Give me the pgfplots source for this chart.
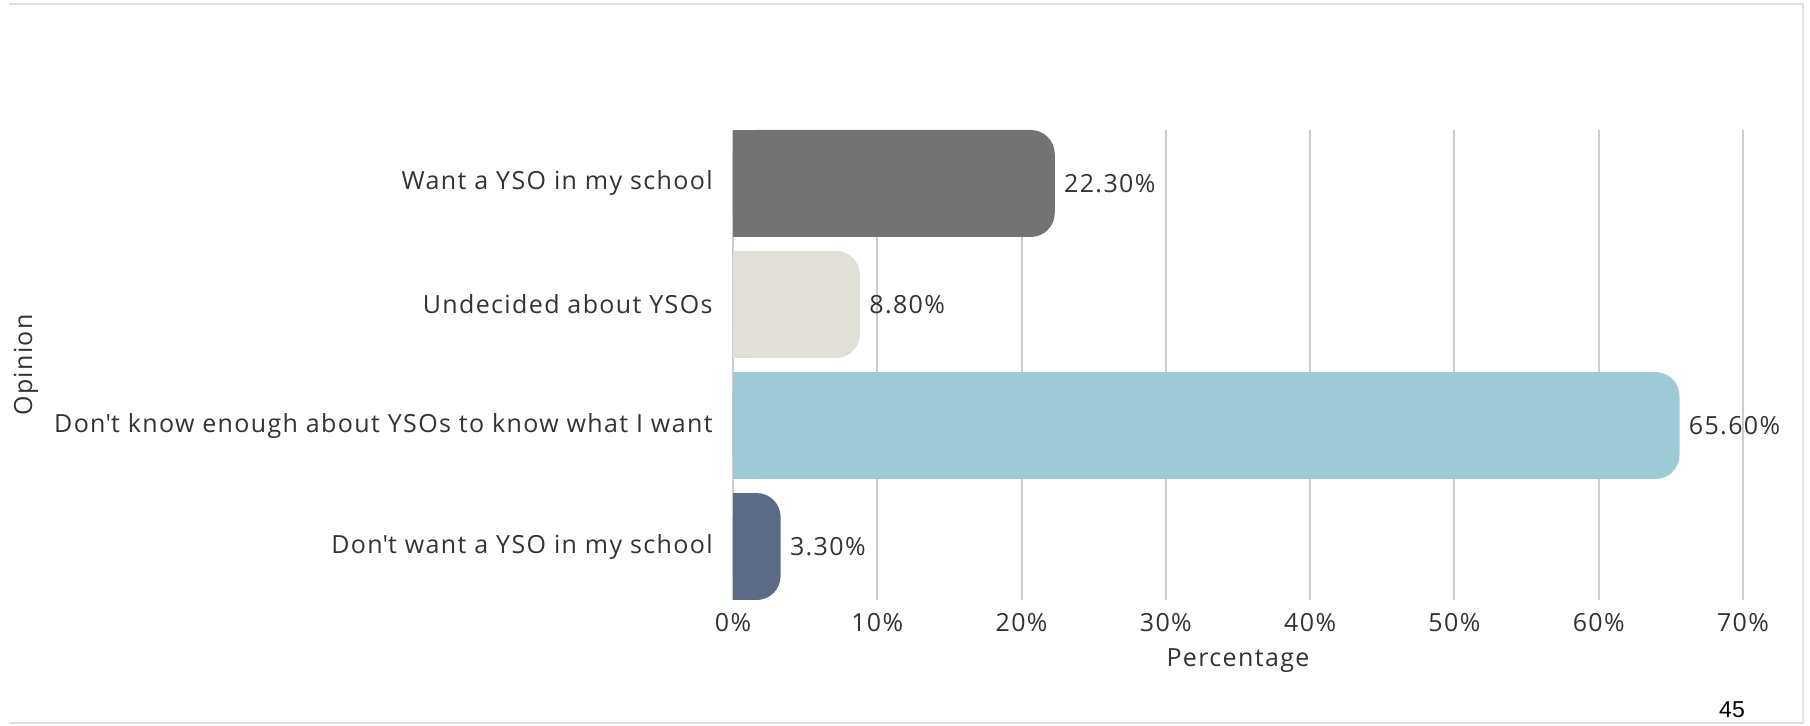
\documentclass[border=0pt]{standalone}
\usepackage{pgfplots}
\pgfplotsset{compat=1.18}
\usepackage{fontspec}
\setmainfont{Open Sans}[LetterSpace=5.5]
\definecolor{cwant}{HTML}{737373}
\definecolor{cund}{HTML}{E0E0D8}
\definecolor{cdk}{HTML}{9ECAD6}
\definecolor{cdont}{HTML}{5C6A88}
\definecolor{txt}{HTML}{333333}
\definecolor{gridc}{HTML}{CCCCCC}
\begin{document}
\begin{tikzpicture}
\useasboundingbox (0,0) rectangle (905pt,362.5pt);
\draw[color=black!12, line width=0.8pt] (4.5pt,360.5pt) -- (901.5pt,360.5pt) -- (901.5pt,1pt) -- (4.5pt,1pt);
\node[font=\fontspec{Liberation Sans}\fontsize{11.5}{13}\selectfont, text=black] at (866pt,7.5pt) {45};
\begin{axis}[
  at={(366.5pt,62.5pt)}, anchor=south west,
  scale only axis, width=505pt, height=235pt,
  xmin=0, xmax=70, ymin=-0.442, ymax=3.442,
  axis line style={draw=none},
  xtick={0,10,20,30,40,50,60,70},
  xticklabels={0\%,10\%,20\%,30\%,40\%,50\%,60\%,70\%},
  ytick={0,1,2,3},
  yticklabels={Don\textquotesingle t want a YSO in my school,Don\textquotesingle t know enough about YSOs to know what I want,Undecided about YSOs,Want a YSO in my school},
  major tick length=0pt,
  xmajorgrids, major grid style={color=gridc, line width=1pt},
  tick label style={font=\fontsize{12.5}{14}\selectfont, text=txt, inner sep=0pt},
  xticklabel style={anchor=center, yshift=-11.5pt},
  yticklabel style={anchor=east, xshift=-10pt},
  label style={font=\fontsize{12.5}{14}\selectfont, text=txt},
  xlabel={Percentage},
  xlabel style={at={(axis description cs:0.5,-0.128)}, anchor=center},
  ylabel={Opinion},
  ylabel style={at={(axis description cs:-0.7,0.5)}, anchor=center, rotate=0},
  bar width=53.5pt,
  nodes near coords style={font=\fontsize{12.5}{14}\selectfont, text=txt, anchor=west, inner sep=0pt, xshift=4.5pt},
  clip=false,
]
% full bars with rounded corners
\addplot[xbar, bar shift=0pt, fill=cwant, draw=none, rounded corners=12pt, nodes near coords={22.30\%}] coordinates {(22.3,3)};
\addplot[xbar, bar shift=0pt, fill=cund, draw=none, rounded corners=12pt, nodes near coords={8.80\%}] coordinates {(8.8,2)};
\addplot[xbar, bar shift=0pt, fill=cdk, draw=none, rounded corners=12pt, nodes near coords={65.60\%}] coordinates {(65.6,1)};
\addplot[xbar, bar shift=0pt, fill=cdont, draw=none, rounded corners=12pt, nodes near coords={3.30\%}] coordinates {(3.3,0)};
% square left ends
\addplot[xbar, bar shift=0pt, fill=cwant, draw=none] coordinates {(1.5,3)};
\addplot[xbar, bar shift=0pt, fill=cund, draw=none] coordinates {(1.5,2)};
\addplot[xbar, bar shift=0pt, fill=cdk, draw=none] coordinates {(1.5,1)};
\addplot[xbar, bar shift=0pt, fill=cdont, draw=none] coordinates {(1.5,0)};
\end{axis}
\end{tikzpicture}
\end{document}
